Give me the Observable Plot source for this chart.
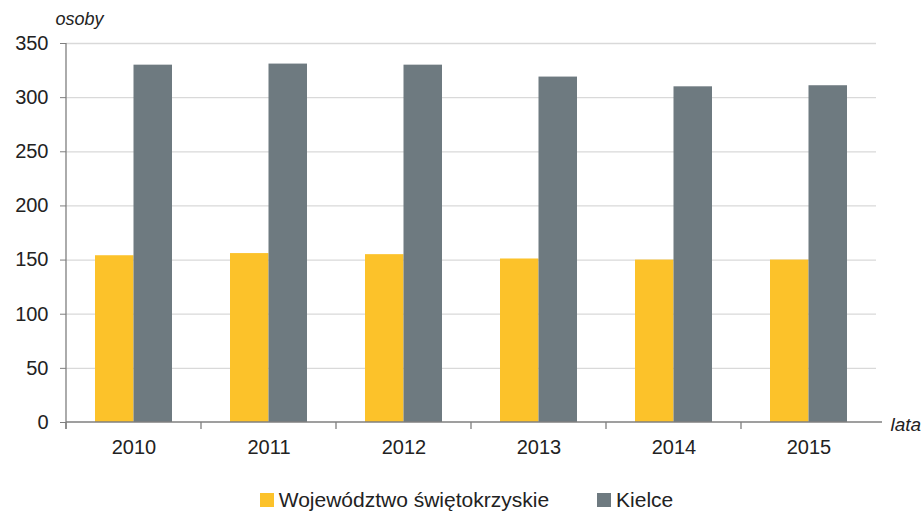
<!DOCTYPE html>
<html>
<head>
<meta charset="utf-8">
<script src="https://cdn.jsdelivr.net/npm/d3@7"></script>
<script src="https://cdn.jsdelivr.net/npm/@observablehq/plot@0.6"></script>
<style>
  html, body { margin: 0; padding: 0; background: #fff; }
  body { width: 922px; height: 512px; overflow: hidden; font-family: "Liberation Sans", Arial, sans-serif; }
  #chart { height: 470px; }
  #legend { display: flex; justify-content: center; align-items: center; height: 60px; padding-left: 11px; font-size: 21px; color: #222; }
  .item { display: flex; align-items: center; margin: 0 24px; }
  .sw { width: 14px; height: 14px; margin-right: 5px; }
</style>
</head>
<body>
<div id="chart"></div>
<div id="legend"></div>
<script>
const years = ["2010", "2011", "2012", "2013", "2014", "2015"];
const wojewodztwo = [154, 156, 155, 151, 150, 150];
const kielce = [330, 331, 330, 319, 310, 311];
const seriesNames = ["Województwo świętokrzyskie", "Kielce"];
const seriesColors = ["#FCC22A", "#6E7A80"];
const yTicks = [0, 50, 100, 150, 200, 250, 300, 350];

const dataW = years.map((y, i) => ({year: y, value: wojewodztwo[i]}));
const dataK = years.map((y, i) => ({year: y, value: kielce[i]}));

const axesMark = (index, scales, values, dims) => {
  const g = d3.create("svg:g");
  const x0 = dims.marginLeft, x1 = dims.width - dims.marginRight;
  const yb = dims.height - dims.marginBottom;
  g.append("line").attr("x1", x0).attr("x2", x1 + 6).attr("y1", yb).attr("y2", yb)
    .attr("stroke", "#7f7f7f").attr("stroke-width", 1.3);
  g.append("line").attr("x1", x0).attr("x2", x0).attr("y1", dims.marginTop).attr("y2", yb + 7)
    .attr("stroke", "#7f7f7f").attr("stroke-width", 1.3);
  years.forEach(y => {
    const xx = scales.x(y);
    g.append("line").attr("x1", xx).attr("x2", xx).attr("y1", yb).attr("y2", yb + 7)
      .attr("stroke", "#7f7f7f").attr("stroke-width", 1.3);
  });
  return g.node();
};

const plot = Plot.plot({
  width: 922,
  height: 470,
  marginLeft: 66,
  marginRight: 46,
  marginTop: 43,
  marginBottom: 48,
  style: {fontFamily: "Liberation Sans, Arial, sans-serif", color: "#222", background: "#fff"},
  x: {type: "band", domain: years, padding: 0, axis: null, label: null},
  y: {domain: [0, 350], axis: null, label: null},
  marks: [
    Plot.gridY(yTicks.slice(1), {stroke: "#d9d9d9", strokeOpacity: 1, strokeWidth: 1.3}),
    Plot.barY(dataW, {x: "year", y: "value", fill: seriesColors[0], insetLeft: 29, insetRight: 67.5}),
    Plot.barY(dataK, {x: "year", y: "value", fill: seriesColors[1], insetLeft: 67.5, insetRight: 29}),
    Plot.axisY({ticks: yTicks, tickSize: 6, tickPadding: 12, fontSize: 20, stroke: "#7f7f7f", label: null, tickFormat: d => String(d)}),
    Plot.axisX({tickSize: 0, tickPadding: 17, fontSize: 20, label: null}),
    axesMark,
    Plot.text(["osoby"], {frameAnchor: "top-left", dx: -11, dy: -24, text: d => d, textAnchor: "start", lineAnchor: "middle", fontSize: 18, fontStyle: "italic", fill: "#222"}),
    Plot.text(["lata"], {frameAnchor: "bottom-right", dx: 14, dy: 2, text: d => d, textAnchor: "start", lineAnchor: "middle", fontSize: 19, fontStyle: "italic", fill: "#222"})
  ]
});
document.getElementById("chart").appendChild(plot);

const legend = document.getElementById("legend");
seriesNames.forEach((name, i) => {
  const item = document.createElement("div");
  item.className = "item";
  const sw = document.createElement("div");
  sw.className = "sw";
  sw.style.background = seriesColors[i];
  const t = document.createElement("span");
  t.textContent = name;
  item.appendChild(sw);
  item.appendChild(t);
  legend.appendChild(item);
});
</script>
</body>
</html>
